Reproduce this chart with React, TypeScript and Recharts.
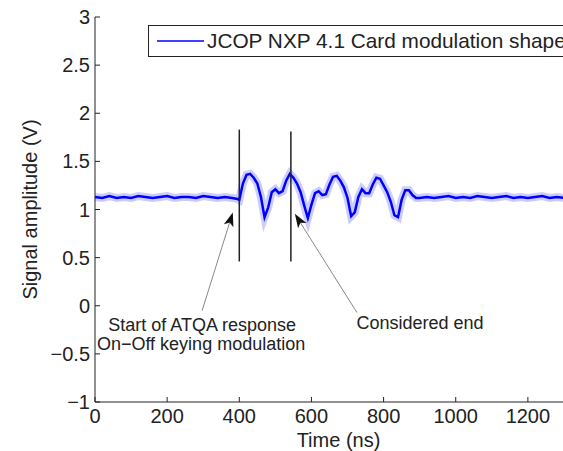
import React from "react";
import { LineChart, Line, XAxis, YAxis, ReferenceLine, ReferenceDot, Legend } from "recharts";

const FONT = '"Liberation Sans", Arial, Helvetica, sans-serif';
const INK = "#222";

// time axis (ns) and measured amplitude (V)
const timeNs = [
  0, 20, 40, 60, 80, 100, 120, 140, 160, 180, 200, 220, 240, 260, 280, 300, 320, 340, 360, 380, 395,
  400, 410, 420, 430, 440, 450, 460, 470, 480, 490, 500, 510, 520, 530, 540, 550, 560, 570, 580, 590,
  600, 610, 620, 630, 640, 650, 660, 670, 680, 690, 700, 710, 720, 730, 740, 750, 760, 770, 780, 790,
  800, 810, 820, 830, 840, 850, 860, 870, 880, 890, 900,
  920, 940, 960, 980, 1000, 1020, 1040, 1060, 1080, 1100, 1120, 1140, 1160, 1180, 1200, 1220, 1240,
  1260, 1280, 1300, 1320, 1340, 1350,
];
const amplitudeV = [
  1.13, 1.12, 1.14, 1.12, 1.13, 1.12, 1.14, 1.13, 1.12, 1.13, 1.14, 1.12, 1.13, 1.13, 1.12, 1.14, 1.13, 1.12, 1.13, 1.12, 1.11,
  1.1, 1.27, 1.36, 1.37, 1.33, 1.27, 1.13, 0.92, 1.02, 1.18, 1.21, 1.17, 1.19, 1.3, 1.37, 1.33, 1.27, 1.18, 1.04, 0.91,
  1.05, 1.17, 1.19, 1.15, 1.16, 1.26, 1.34, 1.35, 1.3, 1.23, 1.12, 0.93, 0.97, 1.13, 1.21, 1.17, 1.17, 1.26, 1.33, 1.32,
  1.25, 1.18, 1.08, 0.94, 0.92, 1.1, 1.2, 1.2, 1.15, 1.12, 1.12,
  1.13, 1.12, 1.13, 1.14, 1.12, 1.13, 1.12, 1.14, 1.13, 1.12, 1.13, 1.14, 1.12, 1.13, 1.12, 1.13, 1.14,
  1.12, 1.13, 1.12, 1.13, 1.12, 1.13,
];

const xTicks = [0, 200, 400, 600, 800, 1000, 1200];
const yTicks = [-1, -0.5, 0, 0.5, 1, 1.5, 2, 2.5, 3];
const seriesName = "JCOP NXP 4.1 Card modulation shape";

// vertical markers: start and considered end of the response
const markerTimes = [400, 543];
const markerTops = [1.83, 1.81];
const markerBottom = 0.46;

// annotation arrows (tail -> tip) and text
const arrowTails = [{ x: 297, y: -0.05 }, { x: 726, y: -0.07 }];
const arrowTips = [{ x: 382, y: 0.97 }, { x: 554, y: 0.955 }];
const noteTexts = ["Start of ATQA response", "On\u2212Off keying modulation", "Considered end"];
const noteX = [297, 294, 901];
const noteY = [-0.26, -0.46, -0.24];

const data = timeNs.map((t, i) => ({ t, v: amplitudeV[i] }));

const fmtY = (v: number) => (v < 0 ? "\u2212" + Math.abs(v) : String(v));

function Arrow(props: any) {
  const { x1, y1, x2, y2 } = props;
  const dx = x2 - x1;
  const dy = y2 - y1;
  const len = Math.hypot(dx, dy) || 1;
  const ux = dx / len;
  const uy = dy / len;
  const hl = 14;
  const hw = 5;
  const bx = x2 - ux * hl;
  const by = y2 - uy * hl;
  const nx = x2 - ux * hl * 0.75;
  const ny = y2 - uy * hl * 0.75;
  return (
    <g>
      <line x1={x1} y1={y1} x2={nx} y2={ny} stroke="#888" strokeWidth={1} />
      <polygon
        points={`${x2},${y2} ${bx - uy * hw},${by + ux * hw} ${nx},${ny} ${bx + uy * hw},${by - ux * hw}`}
        fill="#111"
      />
    </g>
  );
}

function LegendBox() {
  return (
    <div
      style={{
        boxSizing: "border-box",
        width: 430,
        height: 32,
        border: `1px solid ${INK}`,
        background: "#fff",
        display: "flex",
        alignItems: "center",
        fontFamily: FONT,
      }}
    >
      <svg width={55} height={10} style={{ display: "block" }}>
        <line x1={8} y1={5} x2={55} y2={5} stroke="#0000ff" strokeWidth={1.5} />
      </svg>
      <span style={{ marginLeft: 3, fontSize: 20.8, color: INK, whiteSpace: "nowrap" }}>{seriesName}</span>
    </div>
  );
}

export default function App() {
  return (
    <div
      style={{
        position: "absolute",
        left: 0,
        top: 0,
        width: 563,
        height: 451,
        overflow: "hidden",
        background: "#fff",
        fontFamily: FONT,
      }}
    >
      <LineChart width={600} height={451} data={data} margin={{ top: 17, right: 18, bottom: 0, left: 0 }}>
        <XAxis
          xAxisId="top"
          orientation="top"
          dataKey="t"
          type="number"
          domain={[0, 1350]}
          ticks={xTicks}
          interval={0}
          height={0}
          tickSize={-5}
          tickFormatter={() => ""}
          stroke={INK}
        />
        <XAxis
          dataKey="t"
          type="number"
          domain={[0, 1350]}
          ticks={xTicks}
          interval={0}
          height={49}
          tickSize={-5}
          tickMargin={12}
          stroke={INK}
          tick={{ fill: INK, fontSize: 20, fontFamily: FONT }}
          label={{ value: "Time (ns)", position: "insideBottom", offset: 4, fill: INK, fontSize: 20, fontFamily: FONT }}
        />
        <YAxis
          type="number"
          domain={[-1, 3]}
          ticks={yTicks}
          interval={0}
          width={95}
          tickSize={-5}
          tickMargin={10}
          stroke={INK}
          tickFormatter={fmtY}
          tick={{ fill: INK, fontSize: 20, fontFamily: FONT }}
          label={{
            value: "Signal amplitude (V)",
            angle: -90,
            position: "insideLeft",
            offset: 30,
            fill: INK,
            fontSize: 20,
            fontFamily: FONT,
            style: { textAnchor: "middle" },
          }}
        />
        <Legend
          layout="vertical"
          verticalAlign="middle"
          align="center"
          wrapperStyle={{ left: 148, top: 25, width: 430, height: 32 }}
          content={() => <LegendBox />}
        />
        <Line
          dataKey="v"
          type="linear"
          stroke="#0000ff"
          strokeOpacity={0.2}
          strokeWidth={8}
          dot={false}
          legendType="none"
          isAnimationActive={false}
        />
        <Line
          dataKey="v"
          name={seriesName}
          type="linear"
          stroke="#0000ff"
          strokeWidth={2.5}
          dot={false}
          isAnimationActive={false}
        />
        {markerTimes.map((t, i) => (
          <ReferenceLine
            key={`m${i}`}
            segment={[
              { x: t, y: markerBottom },
              { x: t, y: markerTops[i] },
            ]}
            stroke={INK}
            strokeWidth={1.5}
          />
        ))}
        {arrowTails.map((p, i) => (
          <ReferenceLine key={`a${i}`} segment={[p, arrowTips[i]]} shape={(props: any) => <Arrow {...props} />} />
        ))}
        {noteTexts.map((s, i) => (
          <ReferenceDot
            key={`n${i}`}
            x={noteX[i]}
            y={noteY[i]}
            r={0}
            shape={(props: any) => (
              <text x={props.cx} y={props.cy} textAnchor="middle" fontSize={18} fill={INK} fontFamily={FONT}>
                {s}
              </text>
            )}
          />
        ))}
      </LineChart>
    </div>
  );
}
